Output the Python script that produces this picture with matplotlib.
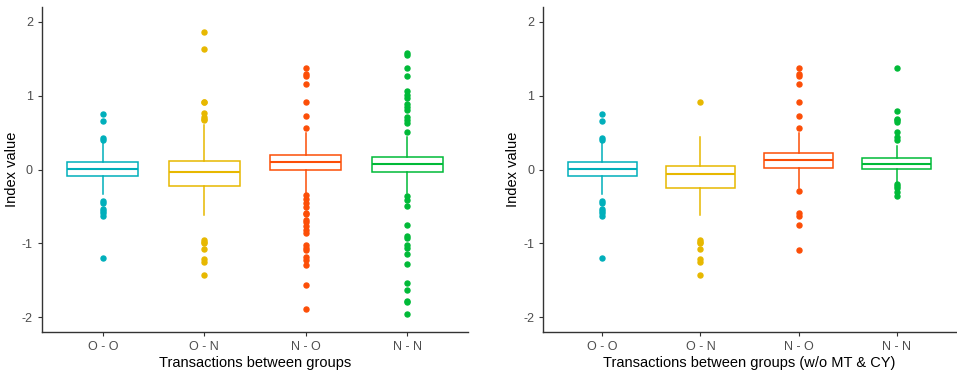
import matplotlib
matplotlib.use("Agg")
import matplotlib.pyplot as plt

plt.rcParams['font.family'] = ['Liberation Sans', 'DejaVu Sans']
plt.rcParams['axes.unicode_minus'] = False

# categories and colours
groups = ["O - O", "O - N", "N - O", "N - N"]
colors = ["#00AFBB", "#E7B800", "#FC4E07", "#00BA38"]
yticks = [-2, -1, 0, 1, 2]

# box statistics: q1, median, q3, lower whisker, upper whisker
# left panel: all transactions
all_q1 = [-0.092, -0.223, -0.013, -0.040]
all_med = [0.009, -0.031, 0.097, 0.077]
all_q3 = [0.106, 0.120, 0.201, 0.172]
all_lo = [-0.334, -0.614, -0.320, -0.320]
all_hi = [0.360, 0.600, 0.493, 0.440]
all_fliers = [
    [0.75, 0.66, 0.425, 0.40, -0.424, -0.455, -0.537, -0.56, -0.582, -0.636, -1.197],
    [1.857, 1.631, 0.92, 0.91, 0.764, 0.718, 0.69, 0.673,
     -0.953, -0.975, -0.989, -1.079, -1.214, -1.247, -1.427],
    [1.374, 1.29, 1.27, 1.161, 0.908, 0.727, 0.556,
     -0.343, -0.397, -0.451, -0.505, -0.582, -0.605, -0.682, -0.713, -0.763,
     -0.817, -0.862, -1.02, -1.057, -1.088, -1.187, -1.232, -1.29, -1.562, -1.892],
    [1.577, 1.545, 1.374, 1.265, 1.07, 1.012, 0.967, 0.886, 0.845, 0.809,
     0.718, 0.673, 0.629, 0.507,
     -0.365, -0.41, -0.50, -0.758, -0.894, -0.93, -1.02, -1.057, -1.147,
     -1.28, -1.54, -1.63, -1.78, -1.80, -1.955],
]

# right panel: without MT & CY
sub_q1 = [-0.092, -0.252, 0.027, 0.009]
sub_med = [0.009, -0.058, 0.127, 0.077]
sub_q3 = [0.106, 0.054, 0.226, 0.154]
sub_lo = [-0.334, -0.614, -0.252, -0.171]
sub_hi = [0.360, 0.434, 0.493, 0.321]
sub_fliers = [
    [0.75, 0.66, 0.425, 0.40, -0.424, -0.455, -0.537, -0.56, -0.582, -0.636, -1.197],
    [0.908, -0.953, -0.975, -0.989, -1.079, -1.214, -1.247, -1.427],
    [1.374, 1.29, 1.27, 1.161, 0.908, 0.727, 0.556,
     -0.293, -0.582, -0.627, -0.758, -1.088],
    [1.374, 0.791, 0.687, 0.665, 0.642, 0.507, 0.447, 0.402,
     -0.198, -0.225, -0.252, -0.298, -0.365],
]


def draw_panel(ax, q1, med, q3, lo, hi, fliers, xlabel):
    for i in range(len(groups)):
        stats = [dict(q1=q1[i], med=med[i], q3=q3[i], whislo=lo[i],
                      whishi=hi[i], fliers=fliers[i])]
        c = colors[i]
        ax.bxp(stats, positions=[i + 1], widths=0.7, showcaps=False,
               patch_artist=True,
               boxprops=dict(facecolor="white", edgecolor=c, linewidth=1.1),
               medianprops=dict(color=c, linewidth=1.5),
               whiskerprops=dict(color=c, linewidth=1.1),
               flierprops=dict(marker="o", markerfacecolor=c, markeredgecolor=c,
                               markersize=3.6, linestyle="none"))
    ax.set_xlim(0.4, 4.6)
    ax.set_ylim(-2.2, 2.2)
    ax.set_xticks(range(1, len(groups) + 1))
    ax.set_xticklabels(groups)
    ax.set_yticks(yticks)
    ax.set_xlabel(xlabel, fontsize=10.5, color="black", labelpad=2)
    ax.set_ylabel("Index value", fontsize=10.5, color="black", labelpad=2)
    ax.tick_params(axis="both", colors="#333333", labelcolor="#4D4D4D",
                   labelsize=9, length=3, width=0.8)
    for s in ["top", "right"]:
        ax.spines[s].set_visible(False)
    for s in ["left", "bottom"]:
        ax.spines[s].set_color("#333333")
        ax.spines[s].set_linewidth(1.0)


fig = plt.figure(figsize=(9.57, 3.73), dpi=100)
ax1 = fig.add_axes([0.0439, 0.110, 0.445, 0.871])
ax2 = fig.add_axes([0.5677, 0.110, 0.431, 0.871])

draw_panel(ax1, all_q1, all_med, all_q3, all_lo, all_hi, all_fliers,
           "Transactions between groups")
draw_panel(ax2, sub_q1, sub_med, sub_q3, sub_lo, sub_hi, sub_fliers,
           "Transactions between groups (w/o MT & CY)")

fig.savefig("out.png", dpi=100)
